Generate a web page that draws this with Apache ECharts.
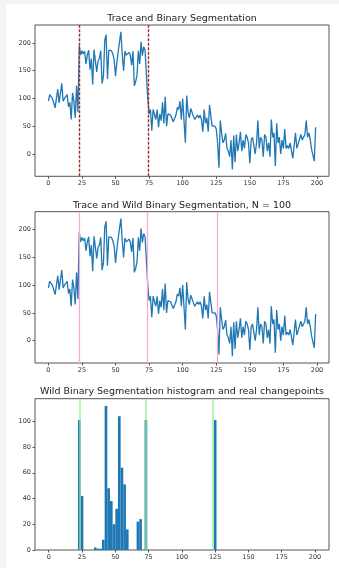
<!DOCTYPE html>
<html>
<head>
<meta charset="utf-8">
<script src="https://cdn.jsdelivr.net/npm/echarts@6/dist/echarts.min.js"></script>
<style>
  html, body { margin: 0; padding: 0; background: #f4f4f4; }
  #chart { position: absolute; left: 6px; top: 4px; width: 333px; height: 564px; background: #fff; }
</style>
</head>
<body>
<div id="chart"></div>
<script>
// trace, one value per sample 0..199
const trace = [
  95, 107, 107, 100, 97, 83, 100, 117, 92, 90, 127, 95, 100, 97, 107, 85, 93, 62, 110, 95, 65, 123, 75,
  195, 178, 186, 180, 185, 162, 178, 187, 152, 172, 125, 188, 188, 148, 168, 172, 186, 127, 140, 205, 215,
  135, 187, 187, 186, 180, 170, 140, 165, 185, 188, 220, 180, 150, 185, 178, 176, 183, 178, 160, 185, 123,
  130, 142, 186, 162, 202, 177, 193, 187, 190,
  100, 72, 80, 42, 80, 81, 62, 80, 48, 72, 60, 93, 55, 103, 50, 72, 72, 70, 72, 58, 55, 70, 84, 80, 95,
  62, 100, 60, 20, 105, 75, 65, 82, 82, 68, 62, 60, 70, 65, 70, 62, 40, 80, 55, 65, 40, 88, 68, 50, 50, 50,
  45, 20, -25, 60, 38, 20, 25, 37, 10, 5, -5, 25, -28, 33, -15, 35, 5, 20, 40, 5, 25, 10, 35, 30, 20,
  -17, 25, 30, 30, 0, 20, 60, 10, 30, 25, -5, 35, 30, 5, 20, -5, 62, 30, 38, -22, 55, 20, 30, 0, 25,
  10, 45, 10, 15, 10, 20, 20, -8, 15, 38, 10, 18, 20, 35, 25, 25, 35, 60, 30, 38, 25, 8, 5, -13, 48
];

const bsChangepoints = [23, 74];
const wbsChangepoints = [23, 73.5, 125.5];
const realChangepoints = [23, 73, 123];

// histogram of WBS changepoint hits (bin left edge, count)
const binLeft = [22, 24, 34, 36, 38, 40, 42, 44, 46, 48, 50, 52, 54, 56, 58, 66, 68, 72, 124];
const binCount = [101, 42, 2, 1, 1, 8, 112, 48, 38, 20, 32, 104, 64, 51, 16, 22, 24, 101, 101];
const binWidth = 2;

const titles = [
  'Trace and Binary Segmentation',
  'Trace and Wild Binary Segmentation, N = 100',
  'Wild Binary Segmentation histogram and real changepoints'
];
const xTicks = [0, 25, 50, 75, 100, 125, 150, 175, 200];
const traceTicks = [0, 50, 100, 150, 200];
const histTicks = [0, 20, 40, 60, 80, 100];

const FONT = 'DejaVu Sans';
const BLUE = '#1f77b4';
const chart = echarts.init(document.getElementById('chart'));

const traceData = trace.map((v, i) => [i, v]);
const gridTops = [21, 207.7, 394.7];
const titleTops = [4.5, 191.5, 378];

function xAxisFor(i, min, max) {
  return {
    type: 'value', gridIndex: i, min: min, max: max,
    axisLine: { show: false, onZero: false },
    splitLine: { show: false },
    axisTick: { show: true, length: 2.5, customValues: xTicks, lineStyle: { color: '#555' } },
    axisLabel: { customValues: xTicks, fontSize: 6.5, fontFamily: FONT, color: '#333', margin: 4 }
  };
}
function yAxisFor(i, min, max, ticks) {
  return {
    type: 'value', gridIndex: i, min: min, max: max,
    axisLine: { show: false, onZero: false },
    splitLine: { show: false },
    axisTick: { show: true, length: 2.5, customValues: ticks, lineStyle: { color: '#555' } },
    axisLabel: { customValues: ticks, fontSize: 6.5, fontFamily: FONT, color: '#333', margin: 4 }
  };
}
function vlines(values, style) {
  return {
    silent: true, symbol: ['none', 'none'], label: { show: false },
    lineStyle: style, emphasis: { disabled: true },
    data: values.map(v => ({ xAxis: v, lineStyle: style }))
  };
}

const option = {
  animation: false,
  title: titles.map((t, i) => ({
    text: t, left: 171, top: titleTops[i], textAlign: 'center',
    textStyle: { fontFamily: FONT, fontSize: 9.5, fontWeight: 'normal', color: '#222' }
  })),
  grid: gridTops.map(t => ({
    left: 29, width: 294, top: t, height: 151.3,
    show: true, borderColor: '#555', borderWidth: 1, backgroundColor: 'transparent'
  })),
  xAxis: [xAxisFor(0, -9.95, 208.95), xAxisFor(1, -9.95, 208.95), xAxisFor(2, -10.3, 210.5)],
  yAxis: [yAxisFor(0, -40.4, 232.4, traceTicks), yAxisFor(1, -40.4, 232.4, traceTicks), yAxisFor(2, 0, 117.6, histTicks)],
  series: [
    {
      type: 'line', xAxisIndex: 0, yAxisIndex: 0, data: traceData, showSymbol: false,
      lineStyle: { color: BLUE, width: 1.3 }, itemStyle: { color: BLUE }
    },
    {
      type: 'line', xAxisIndex: 0, yAxisIndex: 0, data: [],
      markLine: vlines(bsChangepoints, { color: '#a52a2a', width: 1.4, type: [3, 1.5] })
    },
    {
      type: 'line', xAxisIndex: 1, yAxisIndex: 1, data: [], itemStyle: { color: '#ffa6d2' },
      markLine: vlines(wbsChangepoints, { color: '#ffa6d2', width: 1.2, type: 'solid', opacity: 1 })
    },
    {
      type: 'line', xAxisIndex: 1, yAxisIndex: 1, data: traceData, showSymbol: false,
      lineStyle: { color: BLUE, width: 1.3 }, itemStyle: { color: BLUE }
    },
    {
      type: 'custom', xAxisIndex: 2, yAxisIndex: 2,
      data: binLeft.map((x, i) => [x, x + binWidth, binCount[i]]),
      encode: { x: [0, 1], y: 2 },
      renderItem: function (params, api) {
        const p0 = api.coord([api.value(0), api.value(2)]);
        const p1 = api.coord([api.value(1), 0]);
        return {
          type: 'rect',
          shape: { x: p0[0], y: p0[1], width: p1[0] - p0[0], height: p1[1] - p0[1] },
          style: { fill: BLUE }
        };
      }
    },
    {
      type: 'line', xAxisIndex: 2, yAxisIndex: 2, data: [],
      markLine: vlines(realChangepoints, { color: 'rgba(144,238,144,0.65)', width: 2, type: 'solid' })
    }
  ]
};

chart.setOption(option);
</script>
</body>
</html>
